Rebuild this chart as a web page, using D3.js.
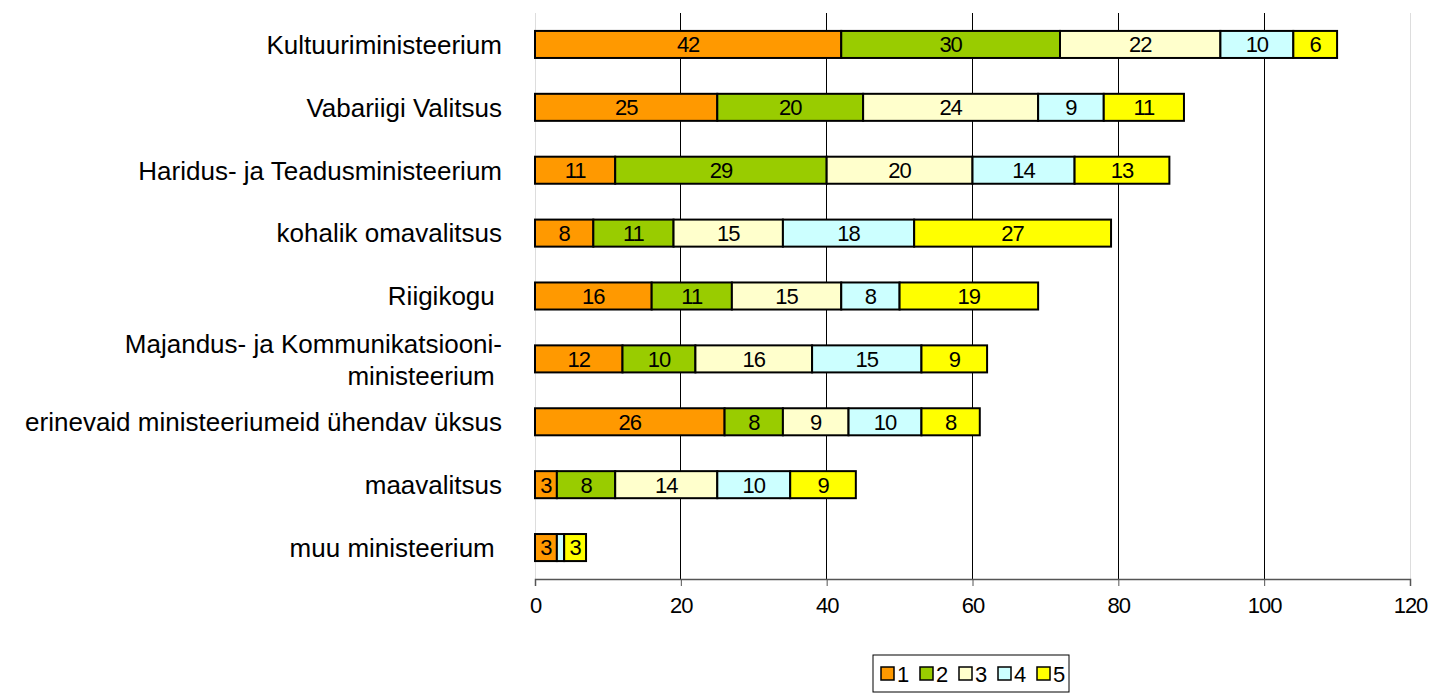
<!DOCTYPE html>
<html>
<head>
<meta charset="utf-8">
<script src="https://cdn.jsdelivr.net/npm/d3@7"></script>
<style>
    body { margin: 0; background: #fff; }
    svg { display: block; font-family: "Liberation Sans", Arial, sans-serif; }
</style>
</head>
<body>
<script>
// categories, top to bottom
const categories = [
    'Kultuuriministeerium',
    'Vabariigi Valitsus',
    'Haridus- ja Teadusministeerium',
    'kohalik omavalitsus',
    'Riigikogu ',
    'Majandus- ja Kommunikatsiooni-|ministeerium ',
    'erinevaid ministeeriumeid ühendav üksus',
    'maavalitsus',
    'muu ministeerium '
];
const seriesNames = ['1', '2', '3', '4', '5'];
const series1 = [42, 25, 11, 8, 16, 12, 26, 3, 3];
const series2 = [30, 20, 29, 11, 11, 10, 8, 8, 0];
const series3 = [22, 24, 20, 15, 15, 16, 9, 14, 0];
const series4 = [10, 9, 14, 18, 8, 15, 10, 10, 1];
const series5 = [6, 11, 13, 27, 19, 9, 8, 9, 3];
const colors = ['#FF9900', '#99CC00', '#FFFFCC', '#CCFFFF', '#FFFF00'];
const xTicks = [0, 20, 40, 60, 80, 100, 120];

const width = 1433, height = 695;
const margin = { top: 13, right: 23, bottom: 116, left: 535 };

const rows = categories.map((c, i) => ({
    cat: c, '1': series1[i], '2': series2[i], '3': series3[i], '4': series4[i], '5': series5[i]
}));

const svg = d3.select('body').append('svg')
    .attr('width', width)
    .attr('height', height);

const x = d3.scaleLinear().domain([0, 120]).range([margin.left, width - margin.right]);
const y = d3.scaleBand().domain(categories).range([margin.top, height - margin.bottom])
    .paddingInner(0.57).paddingOuter(0.285);

// gridlines
svg.append('g')
    .selectAll('line')
    .data(xTicks)
    .join('line')
    .attr('x1', d => x(d)).attr('x2', d => x(d))
    .attr('y1', margin.top).attr('y2', height - margin.bottom)
    .attr('stroke', d => (d === 0 || d === 120) ? '#ddd' : '#000')
    .attr('stroke-width', 1)
    .attr('shape-rendering', 'crispEdges');

// stacked bars
const stack = d3.stack().keys(seriesNames)(rows);

const layer = svg.append('g')
    .selectAll('g')
    .data(stack)
    .join('g')
    .attr('fill', (d, i) => colors[i]);

layer.selectAll('rect')
    .data(d => d.filter(v => v[1] - v[0] > 0))
    .join('rect')
    .attr('x', d => x(d[0]))
    .attr('y', d => y(d.data.cat))
    .attr('width', d => x(d[1]) - x(d[0]))
    .attr('height', y.bandwidth())
    .attr('stroke', '#000')
    .attr('stroke-width', 2);

layer.selectAll('text')
    .data(d => d.filter(v => v[1] - v[0] > 1))
    .join('text')
    .attr('x', d => (x(d[0]) + x(d[1])) / 2)
    .attr('y', d => y(d.data.cat) + y.bandwidth() / 2)
    .attr('dy', '0.36em')
    .attr('text-anchor', 'middle')
    .attr('fill', '#000')
    .attr('font-size', 22)
    .attr('letter-spacing', -1)
    .text(d => d[1] - d[0]);

// category labels
const catLabels = svg.append('g')
    .selectAll('text')
    .data(categories)
    .join('text')
    .attr('x', 502)
    .attr('y', d => y(d) + y.bandwidth() / 2)
    .attr('text-anchor', 'end')
    .attr('font-size', 26)
    .attr('fill', '#000')
    .style('white-space', 'pre');

catLabels.each(function (d) {
    const lines = d.split('|');
    const t = d3.select(this);
    lines.forEach((line, i) => {
        t.append('tspan')
            .attr('x', 502)
            .attr('dy', i === 0 ? (0.36 - (lines.length - 1) * 0.6) + 'em' : '1.25em')
            .text(line);
    });
});

// x axis
const axis = svg.append('g')
    .attr('transform', `translate(0,${height - margin.bottom})`)
    .call(d3.axisBottom(x).tickValues(xTicks).tickSize(7).tickPadding(11));

axis.select('.domain').attr('stroke', '#555').attr('stroke-width', 1.5);
axis.selectAll('.tick line').attr('stroke', '#555');
axis.selectAll('.tick text')
    .attr('font-size', 22)
    .attr('letter-spacing', -1)
    .attr('font-family', '"Liberation Sans", Arial, sans-serif')
    .attr('fill', '#000');

// legend
const legend = svg.append('g').attr('transform', 'translate(873,655)');
legend.append('rect')
    .attr('width', 196).attr('height', 37)
    .attr('fill', '#fff').attr('stroke', '#000').attr('stroke-width', 1);

const item = legend.selectAll('g.item')
    .data(seriesNames)
    .join('g')
    .attr('class', 'item')
    .attr('transform', (d, i) => `translate(${8 + i * 39},0)`);

item.append('rect')
    .attr('y', 12).attr('width', 13).attr('height', 13)
    .attr('fill', (d, i) => colors[i])
    .attr('stroke', '#000').attr('stroke-width', 1.5);

item.append('text')
    .attr('x', 16).attr('y', 27)
    .attr('font-size', 22)
    .text(d => d);
</script>
</body>
</html>
